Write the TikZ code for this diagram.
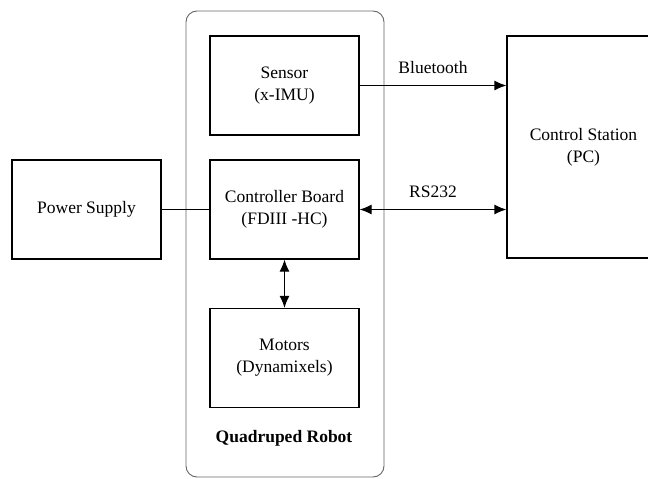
\documentclass[tikz,border=0pt]{standalone}
\usepackage{fontspec}
\setmainfont{Liberation Serif}
\newfontfamily\diagfont{Liberation Serif}
\usetikzlibrary{arrows.meta}
\begin{document}
\begin{tikzpicture}[x = 1pt, y = -1pt,
    font = \diagfont,
    blk/.style = {draw, line width = 1.2pt, minimum width = 149pt, minimum height = 99pt,
      align = center, inner sep = 0pt, font = \diagfont\fontsize{17.5}{22}\selectfont},
    lbl/.style = {font = \diagfont\fontsize{17.5}{20}\selectfont},
    link/.style = {line width = 1.2pt},
    tip/.style = {-{Latex[length = 12pt, width = 10pt]}},
    twotip/.style = {{Latex[length = 12pt, width = 10pt]}-{Latex[length = 12pt, width = 10pt]}}]
    \useasboundingbox (0,0) rectangle (648,479);
    \clip (0,0) rectangle (648,479);
    \draw [gray!80!black, line width = .9pt, rounded corners = 11pt] (186,11) rectangle (384,477);
    \node [blk] (sensor) at (284.5,85.5) {Sensor\\(x-IMU)};
    \node [blk] (ctrl) at (284.5,209.5) {Controller Board\\(FDIII -HC)};
    \node [blk] (motors) at (284.5,358) {Motors\\(Dynamixels)};
    \node [blk] (power) at (86.5,209.5) {Power Supply};
    \node [blk, minimum width = 153pt, minimum height = 222pt] (station) at (583.5,147) {Control Station\\(PC)};
    \node [lbl, font = \diagfont\fontsize{17.5}{20}\selectfont\bfseries] (robot) at (284,438) {Quadruped Robot};
    \draw [link, tip] (sensor.east) -- (station.west |- sensor.east) node [lbl, midway, above = 8pt] {Bluetooth};
    \draw [link, twotip] (ctrl.east) -- (station.west |- ctrl.east) node [lbl, midway, above = 8pt] {RS232};
    \draw [link] (power) -- (ctrl);
    \draw [link, twotip] (ctrl) -- (motors);
  \end{tikzpicture}
\end{document}
